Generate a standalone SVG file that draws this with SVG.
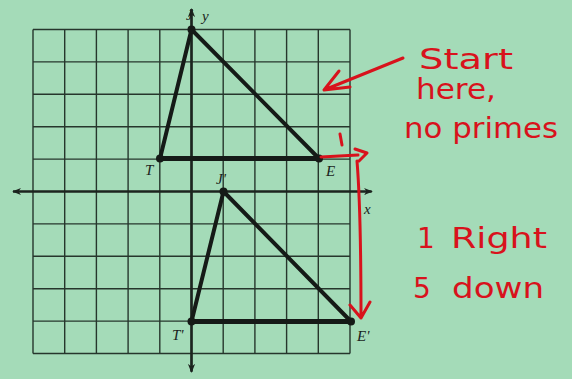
<svg xmlns="http://www.w3.org/2000/svg" width="572" height="379" viewBox="0 0 572 379">
<defs>
<style>
.grid line{stroke:#26362c;stroke-width:1.4}
.axis{stroke:#1c241f;stroke-width:2.2;fill:none}
.tri{stroke:#151a17;stroke-width:4;fill:none;stroke-linejoin:round}
.base{stroke:#151a17;stroke-width:5}
.pt{fill:#151a17}
.lbl{font-family:"Liberation Serif",serif;font-style:italic;font-size:15px;fill:#1a1f1c}
.red{stroke:#d8121c;stroke-width:3;fill:none;stroke-linecap:round;stroke-linejoin:round}
.hw{font-family:"DejaVu Sans","Liberation Sans",sans-serif;font-size:28px;fill:#d8121c}
</style>
<marker id="ah" viewBox="0 0 10 10" refX="9" refY="5" markerWidth="9" markerHeight="9" orient="auto" markerUnits="userSpaceOnUse">
<path d="M0,1 L10,5 L0,9 L3,5 Z" fill="#1c241f"/>
</marker>
</defs>
<rect width="572" height="379" fill="#a4dbb8"/>
<g id="grid" class="grid">
<line x1="33" y1="29.5" x2="33" y2="353.5"/>
<line x1="64.7" y1="29.5" x2="64.7" y2="353.5"/>
<line x1="96.4" y1="29.5" x2="96.4" y2="353.5"/>
<line x1="128.1" y1="29.5" x2="128.1" y2="353.5"/>
<line x1="159.8" y1="29.5" x2="159.8" y2="353.5"/>
<line x1="223.2" y1="29.5" x2="223.2" y2="353.5"/>
<line x1="254.9" y1="29.5" x2="254.9" y2="353.5"/>
<line x1="286.6" y1="29.5" x2="286.6" y2="353.5"/>
<line x1="318.3" y1="29.5" x2="318.3" y2="353.5"/>
<line x1="350" y1="29.5" x2="350" y2="353.5"/>
<line x1="33" y1="29.5" x2="350" y2="29.5"/>
<line x1="33" y1="61.9" x2="350" y2="61.9"/>
<line x1="33" y1="94.3" x2="350" y2="94.3"/>
<line x1="33" y1="126.7" x2="350" y2="126.7"/>
<line x1="33" y1="159.1" x2="350" y2="159.1"/>
<line x1="33" y1="223.9" x2="350" y2="223.9"/>
<line x1="33" y1="256.3" x2="350" y2="256.3"/>
<line x1="33" y1="288.7" x2="350" y2="288.7"/>
<line x1="33" y1="321.1" x2="350" y2="321.1"/>
<line x1="33" y1="353.5" x2="350" y2="353.5"/>
</g>
<g id="axes">
<line class="axis" x1="191.5" y1="371" x2="191.5" y2="9" marker-end="url(#ah)"/>
<line class="axis" x1="191.5" y1="9" x2="191.5" y2="372" marker-end="url(#ah)"/>
<line class="axis" x1="371" y1="191.5" x2="13" y2="191.5" marker-end="url(#ah)"/>
<line class="axis" x1="13" y1="191.5" x2="372" y2="191.5" marker-end="url(#ah)"/>
<text class="lbl" x="202" y="21">y</text>
<text class="lbl" x="364" y="214">x</text>
</g>
<g id="triangle-JTE">
<path class="tri" d="M191.5,29.5 L160,158.5 M191.5,29.5 L319,158.5"/>
<line class="base" x1="160" y1="158.5" x2="319" y2="158.5"/>
<circle class="pt" cx="191.5" cy="29.5" r="4"/>
<circle class="pt" cx="160" cy="158.5" r="4"/>
<circle class="pt" cx="319" cy="158.5" r="4"/>
<text class="lbl" x="186" y="20">J</text>
<text class="lbl" x="145" y="175">T</text>
<text class="lbl" x="326" y="176">E</text>
</g>
<g id="triangle-JTE-image">
<path class="tri" d="M223.5,191.5 L191.5,321.5 M223.5,191.5 L351,321.5"/>
<line class="base" x1="191.5" y1="321.5" x2="351" y2="321.5"/>
<circle class="pt" cx="223.5" cy="191.5" r="4"/>
<circle class="pt" cx="191.5" cy="321.5" r="4"/>
<circle class="pt" cx="351" cy="321.5" r="4"/>
<text class="lbl" x="216" y="184">J'</text>
<text class="lbl" x="172" y="340">T'</text>
<text class="lbl" x="357" y="341">E'</text>
</g>
<g id="annotations">
<path class="red" d="M403,58 L324,90 M339,71 L324,90 L350,87"/>
<path class="red" d="M321,157 L358,155 M355,149 L367,153 L359,161"/>
<path class="red" d="M340,134 L342,145"/>
<path class="red" d="M357,161 C361,210 361,270 361,318 M350,305 L361,318 L370,302"/>
<text class="hw" x="419" y="69" textLength="94" lengthAdjust="spacingAndGlyphs">Start</text>
<text class="hw" x="416" y="99" textLength="80" lengthAdjust="spacingAndGlyphs">here,</text>
<text class="hw" x="404" y="138" textLength="154" lengthAdjust="spacingAndGlyphs">no primes</text>
<text class="hw" x="417" y="248">1</text>
<text class="hw" x="451" y="248" textLength="96" lengthAdjust="spacingAndGlyphs">Right</text>
<text class="hw" x="413" y="298">5</text>
<text class="hw" x="452" y="298" textLength="92" lengthAdjust="spacingAndGlyphs">down</text>
</g>
</svg>
